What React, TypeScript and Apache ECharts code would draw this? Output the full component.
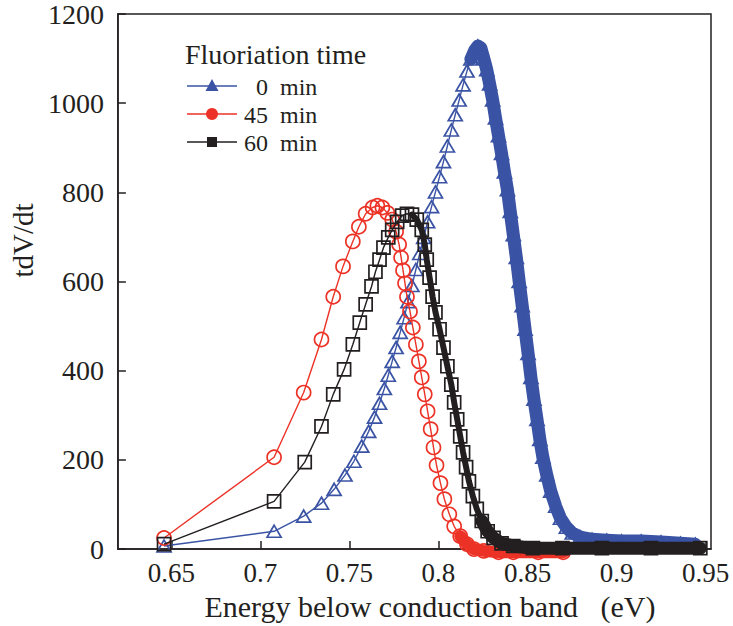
import React, { useEffect, useRef } from 'react';
import * as echarts from 'echarts';

const INK = '#231f20';
const BLUE = '#3a53a4';
const RED = '#ec3226';
const FONT = '"Liberation Serif", "Times New Roman", serif';

const xTickValues = [0.65, 0.7, 0.75, 0.8, 0.85, 0.9, 0.95];
const xTickLabels = ['0.65', '0.7', '0.75', '0.8', '0.85', '0.9', '0.95'];

const legendTitle = 'Fluoriation time';
const seriesNames = ['0  min', '45 min', '60 min'];
const legendLines = ['\u20070  min', '45  min', '60  min'];

// 0 min
const blueX = [0.6459,0.7077,0.7243,0.7343,0.7414,0.7475,0.7525,0.7569,0.7608,0.7641,0.7669,0.7696,0.7718,0.7740,0.7762,0.7785,0.7807,0.7829,0.7851,0.7873,0.7895,0.7917,0.7939,0.7961,0.7983,0.8006,0.8028,0.8050,0.8072,0.8094,0.8116,0.8138,0.8160,0.8182,0.8204,0.8221,0.8238,0.8254,0.8271,0.8287,0.8304,0.8320,0.8337,0.8354,0.8370,0.8387,0.8403,0.8420,0.8437,0.8453,0.8470,0.8486,0.8503,0.8519,0.8536,0.8553,0.8569,0.8586,0.8608,0.8630,0.8658,0.8685,0.8718,0.8751,0.8796,0.8862,0.8945,0.9028,0.9138,0.9249,0.9359,0.9442];
const blueY = [7,40,74,103,134,166,197,231,264,296,327,360,390,421,452,486,519,555,591,627,663,699,734,768,801,835,869,904,940,974,1007,1041,1072,1099,1119,1128,1124,1101,1075,1043,1007,967,927,887,846,806,757,705,654,600,546,493,439,385,336,291,246,206,166,130,96,69,49,36,27,22,20,18,18,16,13,11];

// 45 min
const redX = [0.6459,0.7077,0.7243,0.7343,0.7409,0.7464,0.7519,0.7553,0.7591,0.7630,0.7657,0.7685,0.7713,0.7740,0.7762,0.7779,0.7790,0.7801,0.7812,0.7823,0.7840,0.7856,0.7873,0.7890,0.7906,0.7923,0.7939,0.7956,0.7972,0.7989,0.8011,0.8033,0.8061,0.8088,0.8122,0.8160,0.8199,0.8254,0.8337,0.8420,0.8560,0.8700];
const redY = [25,206,351,470,566,634,690,723,752,766,770,766,754,739,712,683,654,625,596,566,533,497,459,421,385,347,309,269,228,188,148,112,78,51,29,11,0,-4,-7,-7,-7,-7];

// 60 min
const blackX = [0.6459,0.7077,0.7249,0.7343,0.7409,0.7470,0.7519,0.7558,0.7591,0.7624,0.7646,0.7669,0.7691,0.7718,0.7740,0.7768,0.7796,0.7823,0.7851,0.7878,0.7906,0.7923,0.7934,0.7950,0.7967,0.7983,0.8006,0.8028,0.8050,0.8072,0.8088,0.8105,0.8122,0.8138,0.8155,0.8171,0.8193,0.8215,0.8243,0.8276,0.8309,0.8354,0.8420,0.8530,0.8696,0.8917,0.9193,0.9470];
const blackY = [11,107,195,275,347,403,459,508,549,589,622,649,676,699,716,734,748,752,750,739,716,683,649,609,566,531,493,452,410,369,329,291,253,217,184,152,119,90,63,40,25,13,7,2,2,2,2,2];

const pairs = (xs: number[], ys: number[]) => xs.map((x, i) => [x, ys[i]]);
const from = (xs: number[], ys: number[], x0: number) =>
  pairs(xs, ys).filter((p) => p[0] >= x0);

export default function App() {
  const ref = useRef<HTMLDivElement>(null);
  useEffect(() => {
    if (!ref.current) return;
    const chart = echarts.init(ref.current, undefined, { renderer: 'svg' });

    const markerSeries = (name: string, xs: number[], ys: number[], color: string, symbol: string, size: any, z: number) => ({
      type: 'line',
      name,
      data: pairs(xs, ys),
      symbol,
      symbolSize: size,
      showSymbol: true,
      showAllSymbol: true,
      clip: false,
      z,
      lineStyle: { color, width: 1.4 },
      itemStyle: { color: 'rgba(0,0,0,0)', borderColor: color, borderWidth: 1.7 },
      emphasis: { disabled: true },
    });
    const bandSeries = (data: number[][], color: string, width: number, z: number) => ({
      type: 'line',
      data,
      symbol: 'none',
      clip: false,
      z,
      lineStyle: { color, width, cap: 'round', join: 'round' },
      emphasis: { disabled: true },
      tooltip: { show: false },
    });

    const rowY = [86, 114, 142];
    const colors = [BLUE, RED, INK];
    const legendEls: any[] = [
      {
        type: 'text', x: 185, y: 54,
        style: {
          text: legendTitle, fontSize: 28, fontFamily: FONT, fill: INK,
          textAlign: 'left', textVerticalAlign: 'middle', align: 'left', verticalAlign: 'middle',
        },
      },
      {
        type: 'text', x: 244, y: 115,
        style: {
          text: legendLines.join('\n'), fontSize: 24, fontFamily: FONT, fill: INK, lineHeight: 28,
          textAlign: 'left', textVerticalAlign: 'middle', align: 'left', verticalAlign: 'middle',
        },
      },
    ];
    rowY.forEach((y, i) => {
      const c = colors[i];
      legendEls.push({ type: 'line', shape: { x1: 187, y1: y, x2: 237, y2: y }, style: { stroke: c, lineWidth: 1.3 } });
      if (i === 0) legendEls.push({ type: 'polygon', shape: { points: [[212, y - 7], [205.5, y + 5], [218.5, y + 5]] }, style: { fill: c } });
      if (i === 1) legendEls.push({ type: 'circle', shape: { cx: 212, cy: y, r: 6 }, style: { fill: c } });
      if (i === 2) legendEls.push({ type: 'rect', shape: { x: 207, y: y - 5, width: 10, height: 10 }, style: { fill: c } });
    });

    chart.setOption({
      animation: false,
      backgroundColor: '#ffffff',
      grid: { left: 108, right: 22, top: 14, bottom: 76, show: true, borderColor: INK, borderWidth: 1.5, containLabel: false },
      xAxis: {
        type: 'value',
        min: 0.62,
        max: 0.953,
        axisLine: { show: true, onZero: false, lineStyle: { color: INK, width: 1.5 } },
        axisTick: { show: true, inside: true, length: 8, customValues: xTickValues, lineStyle: { color: INK, width: 1.5 } },
        axisLabel: {
          customValues: xTickValues,
          formatter: (v: number) => {
            let best = 0;
            xTickValues.forEach((t, i) => { if (Math.abs(t - v) < Math.abs(xTickValues[best] - v)) best = i; });
            return xTickLabels[best];
          },
          fontFamily: FONT, fontSize: 27, color: INK, margin: 10,
        },
        splitLine: { show: false },
        name: 'Energy below conduction band   (eV)',
        nameLocation: 'middle',
        nameGap: 41,
        nameTextStyle: { fontFamily: FONT, fontSize: 30, color: INK, padding: [0, 0, 0, 31] },
      },
      yAxis: {
        type: 'value',
        min: 0,
        max: 1200,
        interval: 200,
        axisLine: { show: true, onZero: false, lineStyle: { color: INK, width: 1.5 } },
        axisTick: { show: true, inside: true, length: 8, lineStyle: { color: INK, width: 1.5 } },
        axisLabel: { fontFamily: FONT, fontSize: 28, color: INK, margin: 14, formatter: (v: number) => String(v) },
        splitLine: { show: false },
        name: 'tdV/dt',
        nameLocation: 'middle',
        nameRotate: 90,
        nameGap: 55,
        nameTextStyle: { fontFamily: FONT, fontSize: 29, color: INK, padding: [0, 0, 0, 82] },
      },
      series: [
        bandSeries(from(blueX, blueY, 0.8182), BLUE, 13, 1),
        markerSeries(seriesNames[0], blueX, blueY, BLUE, 'triangle', [14, 12], 2),
        bandSeries(from(redX, redY, 0.8122), RED, 12, 3),
        markerSeries(seriesNames[1], redX, redY, RED, 'circle', 14, 4),
        bandSeries(from(blackX, blackY, 0.7851), INK, 6, 5),
        bandSeries(from(blackX, blackY, 0.8243), INK, 13, 5),
        markerSeries(seriesNames[2], blackX, blackY, INK, 'rect', 13, 6),
      ],
      graphic: legendEls,
    });
    return () => chart.dispose();
  }, []);

  return (
    <div
      ref={ref}
      style={{ position: 'fixed', left: 0, top: 0, width: 733, height: 626, background: '#fff' }}
    />
  );
}
